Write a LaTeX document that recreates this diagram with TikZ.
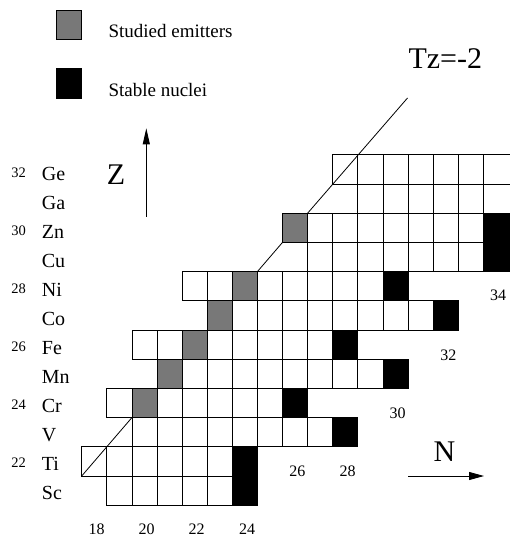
\documentclass[tikz,border=0pt]{standalone}
\usepackage{fontspec}
\setmainfont{Liberation Serif}
\usetikzlibrary{arrows.meta}
\definecolor{emitgray}{RGB}{120,120,120}
\begin{document}
\begin{tikzpicture}[x=1pt,y=-1pt,
  cell/.style={draw=black, line width=0.8pt, minimum width=25.1pt, minimum height=29.2pt, inner sep=0pt, outer sep=0pt, fill=white},
  emitter/.style={cell, fill=emitgray},
  stable/.style={cell, fill=black},
  elem/.style={anchor=base west, inner sep=0pt, font=\fontsize{20}{20}\selectfont},
  znum/.style={anchor=base west, inner sep=0pt, font=\fontsize{14.5}{14.5}\selectfont},
  nnum/.style={anchor=base, inner sep=0pt, font=\fontsize{16}{16}\selectfont},
  big/.style={anchor=base west, inner sep=0pt, font=\fontsize{30}{30}\selectfont},
  legtext/.style={anchor=base west, inner sep=0pt, font=\fontsize{19}{19}\selectfont},
  axis/.style={line width=0.9pt},
  tzline/.style={line width=0.8pt},
  lastcol/.style={minimum width=28.1pt, xshift=1.5pt},
  k24-20/.style={emitter}, k25-21/.style={emitter}, k26-22/.style={emitter},
  k27-23/.style={emitter}, k28-24/.style={emitter}, k30-26/.style={emitter},
  k21-24/.style={stable}, k22-24/.style={stable}, k23-28/.style={stable},
  k24-26/.style={stable}, k25-30/.style={stable}, k26-28/.style={stable},
  k27-32/.style={stable}, k28-30/.style={stable}, k29-34/.style={stable},
  k30-34/.style={stable},
  col34/.style={lastcol}
]
\useasboundingbox (0,0) rectangle (510,537);
% chart cells
\foreach \z/\a/\b in {21/19/24, 22/18/24, 23/20/28, 24/19/26, 25/21/30, 26/20/28,
                      27/23/32, 28/22/30, 29/27/34, 30/26/34, 31/29/34, 32/28/34} {
  \foreach \n in {\a,...,\b} {
    \node[cell, k\z-\n/.try, col\n/.try] (c\z-\n) at ({94.25+25.1*(\n-18)}, {490.6-29.2*(\z-21)}) {};
  }
}
% Tz = -2 line
\coordinate (tzend) at (407.5,98);
\draw[tzline] (c22-18.south west) -- (c24-20.south west);
\draw[tzline] (c28-24.north east) -- (c30-26.south west);
\draw[tzline] (c30-26.north east) -- (tzend);
\node[big] (tz) at (408.3,68.3) {Tz=-2};
% legend
\node[emitter, minimum height=29.5pt] (legE) at (69.2,24.7) {};
\node[stable, minimum height=29.5pt] (legS) at (69.2,83.3) {};
\node[legtext] (legEt) at (108.3,37.3) {Studied emitters};
\node[legtext] (legSt) at (108.3,96.7) {Stable nuclei};
% Z axis
\node[big] (zlab) at (106.7,184.3) {Z};
\coordinate (zlo) at (146.3,216.7);
\coordinate (zhi) at (146.3,128.3);
\draw[axis, -{Triangle[length=16pt,width=7pt]}] (zlo) -- (zhi);
% N axis
\node[big] (nlab) at (433.3,461.7) {N};
\coordinate (nlo) at (408.3,476);
\coordinate (nhi) at (484,476);
\draw[axis, -{Triangle[length=15pt,width=8pt]}] (nlo) -- (nhi);
% element labels
\foreach \z/\s in {32/Ge,31/Ga,30/Zn,29/Cu,28/Ni,27/Co,26/Fe,25/Mn,24/Cr,23/V,22/Ti,21/Sc}
  \node[elem] (e\z) at (41.7,{499.3-29*(\z-21)}) {\s};
\foreach \z in {32,30,28,26,24,22}
  \node[znum] (z\z) at (11.2,{496.3-29*(\z-21)}) {\z};
% neutron numbers
\node[nnum] (n18) at (96.7,534) {18};
\node[nnum] (n20) at (146.7,534) {20};
\node[nnum] (n22) at (196.7,534) {22};
\node[nnum] (n24) at (247,534) {24};
\node[nnum] (n26) at (297.3,476.7) {26};
\node[nnum] (n28) at (347.7,476.7) {28};
\node[nnum] (n30) at (397.7,418.3) {30};
\node[nnum] (n32) at (448.3,360) {32};
\node[nnum] (n34) at (498,300) {34};
\end{tikzpicture}
\end{document}
